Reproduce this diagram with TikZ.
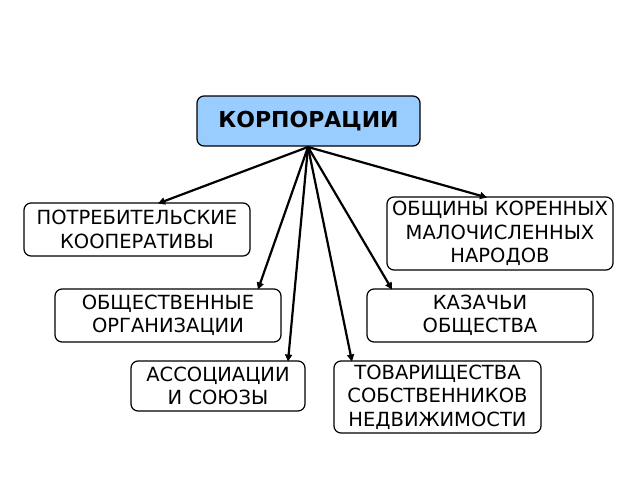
\documentclass[tikz,border=0pt]{standalone}
\usepackage{fontspec}
\setmainfont{DejaVu Sans}
\usetikzlibrary{arrows.meta}
\definecolor{kblue}{HTML}{99CCFF}
\begin{document}
\begin{tikzpicture}[x=1pt,y=-1pt,
  box/.style={draw=black,line width=1.2pt,rounded corners=7pt,fill=white,align=center,font=\fontsize{19.5}{23.5}\selectfont,inner sep=0pt},
  arr/.style={line width=2.2pt,-{Triangle[length=7pt,width=7pt]}}]
\useasboundingbox (0,0) rectangle (640,480);
\node[box,fill=kblue,minimum width=223pt,minimum height=50pt,font=\fontsize{22}{26}\selectfont\bfseries] (k) at (308.5,121) {КОРПОРАЦИИ};
\node[box,minimum width=226pt,minimum height=53pt] (a) at (137,229.5) {ПОТРЕБИТЕЛЬСКИЕ\\КООПЕРАТИВЫ};
\node[box,minimum width=226pt,minimum height=73pt] (b) at (500,233.5) {ОБЩИНЫ КОРЕННЫХ\\МАЛОЧИСЛЕННЫХ\\НАРОДОВ};
\node[box,minimum width=226pt,minimum height=53pt] (c) at (168,315.5) {ОБЩЕСТВЕННЫЕ\\ОРГАНИЗАЦИИ};
\node[box,minimum width=226pt,minimum height=53pt] (d) at (480,315.5) {КАЗАЧЬИ\\ОБЩЕСТВА};
\node[box,minimum width=174pt,minimum height=50pt] (e) at (218,386) {АССОЦИАЦИИ\\И СОЮЗЫ};
\node[box,minimum width=207pt,minimum height=72pt] (f) at (437.5,397) {ТОВАРИЩЕСТВА\\СОБСТВЕННИКОВ\\НЕДВИЖИМОСТИ};
\coordinate (o) at (308,147);
\draw[arr] (o) -- (158,203.5);
\draw[arr] (o) -- (487,197.5);
\draw[arr] (o) -- (258,289.5);
\draw[arr] (o) -- (392,289.5);
\draw[arr] (o) -- (288,361.5);
\draw[arr] (o) -- (352,361.5);
\end{tikzpicture}
\end{document}
